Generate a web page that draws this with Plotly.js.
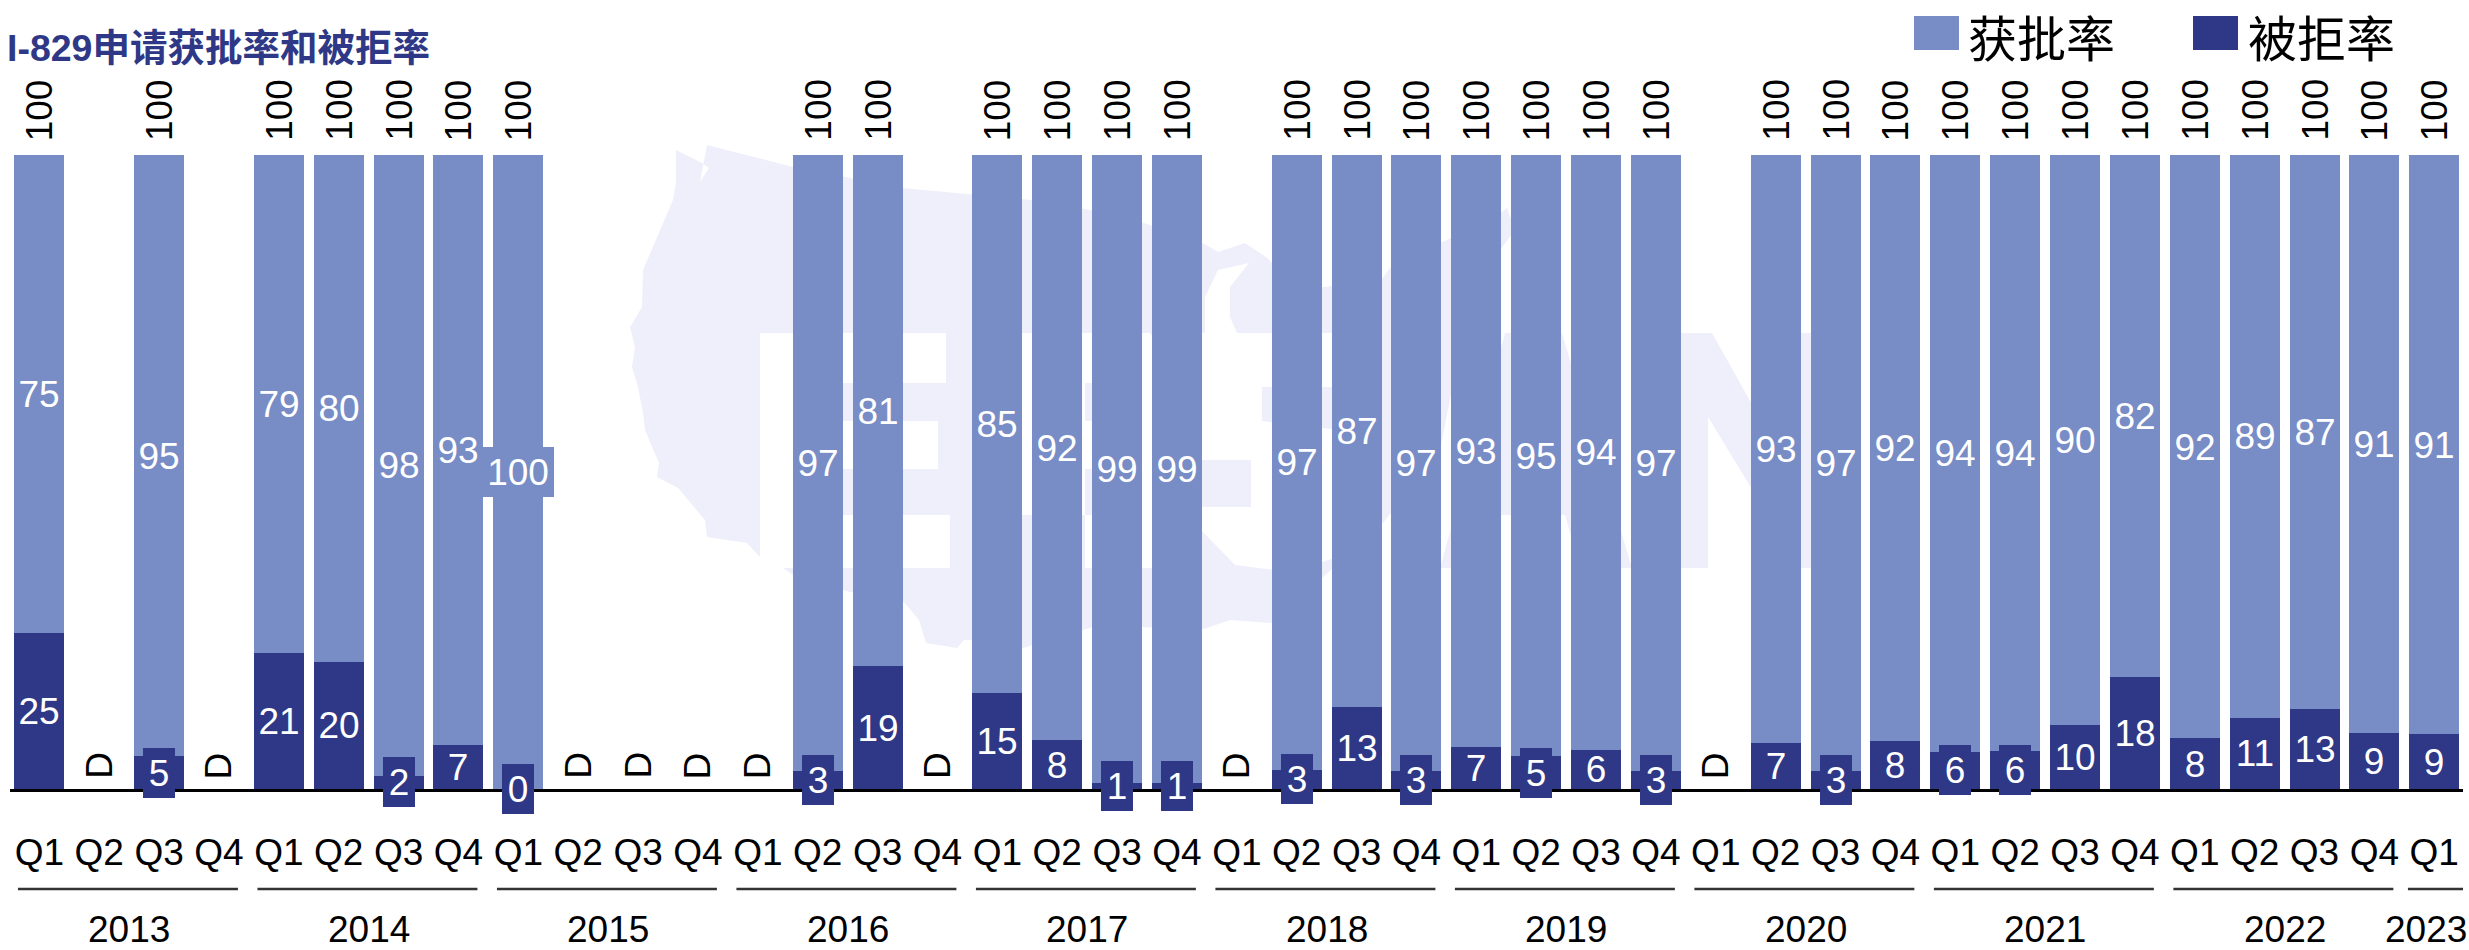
<!DOCTYPE html>
<html>
<head>
<meta charset="utf-8">
<script src="https://cdn.plot.ly/plotly-3.0.1.min.js"></script>
<style>html,body{margin:0;padding:0;background:#fff}#chart{width:2469px;height:950px}</style>
</head>
<body>
<div id="chart"></div>
<script>
const quarters = ["Q1","Q2","Q3","Q4","Q1","Q2","Q3","Q4","Q1","Q2","Q3","Q4","Q1","Q2","Q3","Q4","Q1","Q2","Q3","Q4","Q1","Q2","Q3","Q4","Q1","Q2","Q3","Q4","Q1","Q2","Q3","Q4","Q1","Q2","Q3","Q4","Q1","Q2","Q3","Q4","Q1"];
const approved = [75.4,null,94.85,null,78.6,79.9,97.9,93.1,100,null,null,null,null,97.1,80.6,null,84.8,92.3,99,99,null,97,87.1,97.1,93.4,94.8,93.79,97.1,null,92.8,97.1,92.43,94.1,93.95,89.9,82.4,91.96,88.75,87.4,91.17,91.4];
const rejected = [24.6,null,5.15,null,21.4,20.1,2.1,6.9,0,null,null,null,null,2.9,19.4,null,15.2,7.7,1,1,null,3,12.9,2.9,6.6,5.2,6.21,2.9,null,7.2,2.9,7.57,5.9,6.05,10.1,17.6,8.04,11.25,12.6,8.83,8.6];
const years = ["2013","2014","2015","2016","2017","2018","2019","2020","2021","2022","2023"];
const yearStart = [0,4,8,12,16,20,24,28,32,36,40];
const yearEnd = [3,7,11,15,19,23,27,31,35,39,40];
const seriesNames = ["获批率","被拒率"];
const APPROVED = "#788CC6", REJECTED = "#2E3886", WATERMARK = "#EEEFFA";
const FONT = "'Liberation Sans', Arial, 'Noto Sans CJK SC', sans-serif";
const idx = quarters.map((_, i) => i);

const ML = 10, MR = 6, MT = 155, MB = 161, W = 2469, H = 950;
const paperX = x => (x - ML) / (W - ML - MR);
const paperY = y => (H - MB - y) / (H - MT - MB);

const traces = [
  {type:"bar", name:seriesNames[1], x:idx, y:rejected, marker:{color:REJECTED}, showlegend:false, hoverinfo:"x+y+name"},
  {type:"bar", name:seriesNames[0], x:idx, y:approved, marker:{color:APPROVED}, showlegend:false, hoverinfo:"x+y+name"}
];

const annotations = [];
function valueLabel(i, mid, v, color){
  const s = String(Math.round(v));
  const boxed = s.length === 3 || v < 6.1;   // a plate only where the label outgrows its segment
  const w = s.length === 1 ? 32 : s.length === 2 ? 50 : 72;
  annotations.push({x:i, y:mid, xref:"x", yref:"y", text:s, showarrow:false, xanchor:"center", yanchor:"middle",
    width:w, height:50, borderpad:0, borderwidth:0, align:"center", valign:"middle",
    bgcolor:boxed ? color : "rgba(0,0,0,0)", font:{family:FONT, size:37, color:"#fff"}});
}
idx.forEach(i => {
  if (approved[i] === null) {
    annotations.push({x:i, y:0, xref:"x", yref:"y", text:"D", showarrow:false, textangle:-90, yanchor:"bottom", yshift:8,
      font:{family:FONT, size:37, color:"#000"}});
    return;
  }
  valueLabel(i, rejected[i] / 2, rejected[i], REJECTED);
  valueLabel(i, rejected[i] + approved[i] / 2, approved[i], APPROVED);
  annotations.push({x:i, y:100, xref:"x", yref:"y", text:String(Math.round(approved[i] + rejected[i])), showarrow:false, textangle:-90,
    yanchor:"bottom", yshift:12, font:{family:FONT, size:37, color:"#000"}});
});

const shapes = [];
// faint watermark behind the bars: map silhouette and lettering, in page pixels
function polyPath(pts){ return "M" + pts.map(p => paperX(p[0]) + "," + paperY(p[1])).join("L") + "Z"; }
function wm(pts, color){ shapes.push({type:"path", xref:"paper", yref:"paper", layer:"below", line:{width:0}, fillcolor:color, path:polyPath(pts)}); }
wm([[676,150],[702,163],[709,168],[700,182],[707,145],[793,167],[902,188],[1032,200],[1120,215],[1201,242],[1218,252],[1245,243],[1266,257],[1300,290],[1381,280],[1400,255],[1440,243],[1490,220],[1507,208],[1515,230],[1500,250],[1500,290],[1460,345],[1450,400],[1440,450],[1383,523],[1331,570],[1271,623],[1230,620],[1201,630],[1100,625],[1000,655],[972,640],[964,640],[957,648],[926,643],[919,620],[902,600],[850,592],[793,575],[783,568],[760,557],[747,543],[707,537],[705,520],[678,488],[657,477],[659,463],[645,430],[643,413],[638,387],[632,367],[635,347],[630,327],[642,307],[643,270],[673,200],[676,183]], WATERMARK);
// E
wm([[760,333],[946,333],[946,383],[843,383],[843,421],[938,421],[938,469],[843,469],[843,515],[950,515],[950,568],[760,568]], "#fff");
// B
wm([[1022,333],[1150,333],[1180,380],[1165,445],[1190,510],[1160,568],[1022,568],[1022,515],[1130,515],[1130,469],[1085,469],[1085,421],[1130,421],[1130,383],[1085,383],[1085,568],[1022,568]], "#fff");
// 5
wm([[1201,333],[1375,333],[1375,387],[1262,387],[1262,421],[1340,430],[1375,480],[1360,550],[1290,572],[1235,565],[1201,530],[1201,507],[1251,507],[1251,460],[1201,460]], "#fff");
// Lake Michigan
wm([[1205,297],[1218,270],[1249,263],[1230,287],[1230,317],[1237,333],[1205,333]], "#fff");
// A and N continue past the coast, so they stay in the watermark colour
wm([[1440,568],[1505,333],[1562,333],[1632,568],[1580,568],[1565,515],[1500,515],[1490,568]], WATERMARK);
wm([[1640,568],[1640,333],[1712,333],[1800,490],[1800,333],[1850,333],[1850,568],[1800,568],[1708,417],[1708,568]], WATERMARK);

yearStart.forEach((s, k) => {
  const single = s === yearEnd[k];
  const a = s - (single ? 0.44 : 0.357), b = yearEnd[k] + (single ? 0.52 : 0.317);
  shapes.push({type:"line", xref:"x", yref:"paper", x0:a, x1:b, y0:paperY(889), y1:paperY(889), line:{color:"#333", width:2.5}});
  annotations.push({x:single ? s - 0.13 : (s + yearEnd[k]) / 2, y:paperY(929), xref:"x", yref:"paper", text:years[k], showarrow:false,
    xanchor:"center", yanchor:"middle", font:{family:FONT, size:37, color:"#000"}});
});
// key at the top right
const key = [{x0:1914, x1:1959, c:APPROVED, tx:1967, t:seriesNames[0]},{x0:2193, x1:2238, c:REJECTED, tx:2247, t:seriesNames[1]}];
key.forEach(k => {
  shapes.push({type:"rect", xref:"paper", yref:"paper", line:{width:0}, fillcolor:k.c, x0:paperX(k.x0), x1:paperX(k.x1), y0:paperY(50), y1:paperY(16)});
  annotations.push({x:paperX(k.tx), y:paperY(35), xref:"paper", yref:"paper", text:k.t, showarrow:false, xanchor:"left", yanchor:"middle", borderpad:0,
    font:{family:"'Noto Sans CJK SC', sans-serif", size:49, color:"#000"}});
});
annotations.push({x:paperX(6), y:paperY(48), xref:"paper", yref:"paper", text:"<b>I-829申请获批率和被拒率</b>", showarrow:false, xanchor:"left", yanchor:"middle", borderpad:0,
  font:{family:"'Liberation Sans', 'Noto Sans CJK SC', sans-serif", size:37.5, color:REJECTED}});

const layout = {
  width:W, height:H, paper_bgcolor:"#fff", plot_bgcolor:"rgba(0,0,0,0)",
  margin:{l:ML, r:MR, t:MT, b:MB, pad:0}, barmode:"stack", bargap:0.165, showlegend:false,
  font:{family:FONT, color:"#000"},
  xaxis:{range:[-0.49,40.48], tickmode:"array", tickvals:idx, ticktext:quarters, tickangle:0, ticks:"", ticklabelstandoff:29,
    tickfont:{family:FONT, size:37, color:"#000"}, showgrid:false, zeroline:false, showline:true, linecolor:"#000", linewidth:3},
  yaxis:{range:[0,100], visible:false, showgrid:false, zeroline:false, fixedrange:true},
  annotations, shapes
};
Plotly.newPlot("chart", traces, layout, {displayModeBar:false, staticPlot:true});
</script>
</body>
</html>
